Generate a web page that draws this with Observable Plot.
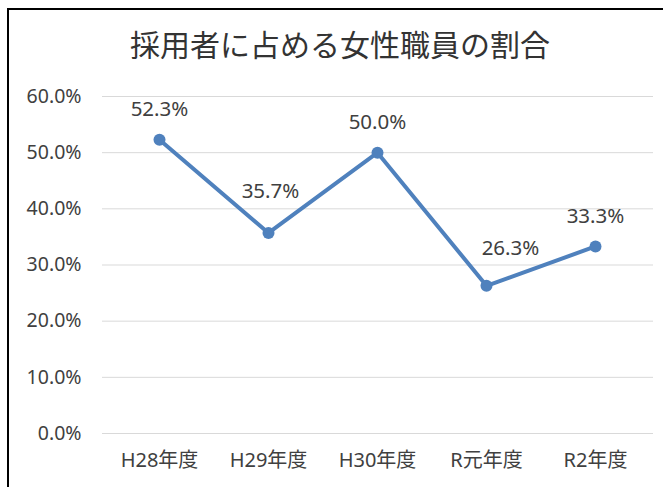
<!DOCTYPE html>
<html>
<head>
<meta charset="utf-8">
<script src="https://cdn.jsdelivr.net/npm/d3@7"></script>
<script src="https://cdn.jsdelivr.net/npm/@observablehq/plot@0.6"></script>
<style>
  html, body { margin: 0; padding: 0; background: #fff; overflow: hidden; }
  #page { position: relative; width: 663px; height: 487px; overflow: hidden; background: #fff;
          font-family: "Noto Sans", "Noto Sans CJK JP", sans-serif; }
  #frame { position: absolute; left: 7px; top: 8px; width: 800px; height: 800px;
           border-left: 2px solid #000; border-top: 2px solid #000; box-sizing: border-box; pointer-events: none; }
  #title { height: 40px; padding-top: 30px; padding-left: 17px; box-sizing: content-box;
           text-align: center; font-size: 30px; line-height: 30px; color: #333; }
  #chart svg { display: block; }
</style>
</head>
<body>
<div id="page">
  <div id="title">採用者に占める女性職員の割合</div>
  <div id="chart"></div>
  <div id="frame"></div>
</div>
<script>
const categories = ["H28年度", "H29年度", "H30年度", "R元年度", "R2年度"];
const values = [0.523, 0.357, 0.500, 0.263, 0.333];
const yTicks = [0, 0.1, 0.2, 0.3, 0.4, 0.5, 0.6];

const data = categories.map((c, i) => ({category: c, value: values[i]}));
const fmt = d3.format(".1%");
const lineColor = "#4F81BD";
const textColor = "#404040";

const plot = Plot.plot({
  width: 663,
  height: 417,
  marginTop: 26,
  marginBottom: 54,
  marginLeft: 102,
  marginRight: 10,
  style: {fontFamily: '"Noto Sans", "Noto Sans CJK JP", sans-serif', color: textColor, background: "transparent"},
  x: {type: "point", domain: categories, padding: 0.5, insetLeft: 1.4, insetRight: 3.4},
  y: {domain: [0, 0.6]},
  marks: [
    Plot.gridY(yTicks, {stroke: "#d9d9d9", strokeOpacity: 1, strokeWidth: 1}),
    Plot.axisY(yTicks, {tickSize: 0, tickPadding: 21, tickFormat: fmt, fontSize: 19.5, label: null}),
    Plot.axisX({tickSize: 0, tickPadding: 19, fontSize: 20, label: null}),
    Plot.line(data, {x: "category", y: "value", stroke: lineColor, strokeWidth: 4}),
    Plot.dot(data, {x: "category", y: "value", r: 6, fill: lineColor, stroke: null}),
    Plot.text(data.filter(d => d.category !== "H29年度" && d.category !== "R元年度"),
      {x: "category", y: "value", text: d => fmt(d.value), dy: -30, fontSize: 20.5, fill: textColor}),
    Plot.text(data.filter(d => d.category === "H29年度"),
      {x: "category", y: "value", text: d => fmt(d.value), dy: -42, dx: 2, fontSize: 20.5, fill: textColor}),
    Plot.text(data.filter(d => d.category === "R元年度"),
      {x: "category", y: "value", text: d => fmt(d.value), dy: -37, dx: 24, fontSize: 20.5, fill: textColor})
  ]
});
document.getElementById("chart").appendChild(plot);
</script>
</body>
</html>
